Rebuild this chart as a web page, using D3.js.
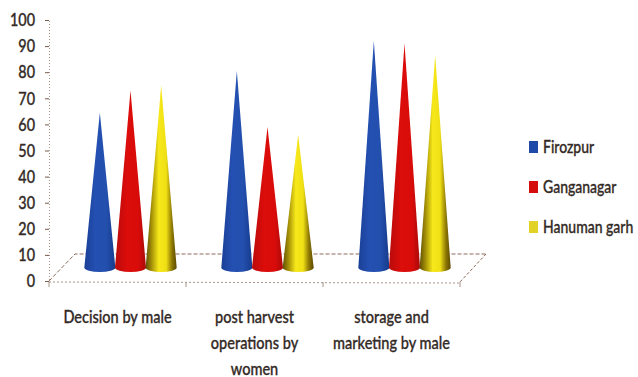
<!DOCTYPE html>
<html>
<head>
<meta charset="utf-8">
<script src="https://cdn.jsdelivr.net/npm/d3@7/dist/d3.min.js"></script>
<style>
  html, body { margin: 0; padding: 0; background: #fff; }
  svg { display: block; }
  text { font-family: Lato, "Open Sans", sans-serif; fill: #332a26; stroke: #332a26; stroke-width: 0.35px; font-weight: 500; }
</style>
</head>
<body>
<svg id="chart" width="638" height="377"></svg>
<script>
const categories = [["Decision by male"], ["post harvest", "operations by", "women"], ["storage and", "marketing by male"]];
const seriesNames = ["Firozpur", "Ganganagar", "Hanuman garh"];
const firozpur = [64.5, 80.5, 92];
const ganganagar = [73, 59, 91];
const hanumangarh = [75, 56, 86.5];
const tickValues = d3.range(0, 101, 10);
const seriesValues = [firozpur, ganganagar, hanumangarh];
const swatchColors = ["#1f4aa8", "#d50d0d", "#e2d226"];
const shading = [
  [["0%", "#1a3f96"], ["35%", "#2450b2"], ["70%", "#2350ae"], ["100%", "#173a8c"]],
  [["0%", "#b90b0b"], ["40%", "#dc0d0b"], ["75%", "#d80c0a"], ["100%", "#a80a08"]],
  [["0%", "#5f4e02"], ["18%", "#a08c06"], ["42%", "#f6e81a"], ["66%", "#efe015"], ["85%", "#8c7604"], ["100%", "#5c4a00"]]
];

const svg = d3.select("#chart");

// Plot frame: the floor is a parallelogram, with the back edge raised by one value-axis step.
const x0 = 49, x1 = 460, depthX = 26, depthY = 27;
const y = d3.scaleLinear().domain([0, 100]).range([281, 20]);
const xCat = d3.scaleBand().domain(d3.range(categories.length)).range([x0, x1]);
const xSeries = d3.scaleBand().domain(d3.range(seriesNames.length)).range([0, 92]).padding(0.0);

const defs = svg.append("defs");
shading.forEach((stops, i) => {
  const g = defs.append("linearGradient").attr("id", "cone" + i);
  stops.forEach(s => g.append("stop").attr("offset", s[0]).attr("stop-color", s[1]));
});

// Value axis
const axis = d3.axisLeft(y).tickValues(tickValues).tickSize(4).tickPadding(10);
const gAxis = svg.append("g").attr("transform", `translate(${x0},0)`).call(axis);
gAxis.select(".domain").attr("stroke", "#a89488").attr("stroke-dasharray", "1 2").attr("stroke-width", 1);
gAxis.selectAll(".tick line").attr("stroke", "#7a5a4c");
gAxis.selectAll(".tick text")
  .attr("font-size", 18).attr("font-family", "Lato, sans-serif")
  .attr("transform", "translate(-14,0) scale(0.8,1) translate(14,0)")
  .attr("x", -14);

// Floor outline
const floor = svg.append("g").attr("fill", "none");
floor.append("path")
  .attr("d", `M${x0},${y(0)}L${x0 + depthX},${y(0) - depthY}L${x1 + depthX},${y(0) - depthY}`)
  .attr("stroke", "#8d6a5c").attr("stroke-dasharray", "4 2");
floor.append("path")
  .attr("d", `M${x1 + depthX},${y(0) - depthY}L${x1},${y(0) + 1}`)
  .attr("stroke", "#8d6a5c").attr("stroke-dasharray", "3 2");
floor.append("path")
  .attr("d", `M${x0},${y(0) + 1}L${x1},${y(0) + 2}`)
  .attr("stroke", "#a89488").attr("stroke-dasharray", "2 2");
floor.selectAll("line.cat")
  .data(d3.range(categories.length + 1))
  .join("line")
  .attr("class", "cat")
  .attr("x1", d => x0 + d * xCat.bandwidth())
  .attr("x2", d => x0 + d * xCat.bandwidth())
  .attr("y1", y(0) + 1).attr("y2", y(0) + 6)
  .attr("stroke", "#a89488");

// Cones stand half way into the floor's depth
const baseY = y(0) - depthY / 2;
const rx = 15.5, ry = 4.5;
const conePath = (cx, value) =>
  `M${cx - rx},${baseY}L${cx},${y(value)}L${cx + rx},${baseY}` +
  `A${rx},${ry} 0 0 1 ${cx - rx},${baseY}Z`;

seriesValues.forEach((vals, s) => {
  svg.append("g").selectAll("path")
    .data(vals)
    .join("path")
    .attr("d", (v, c) => conePath(xCat(c) + xCat.bandwidth() / 2 + depthX / 2 - 46 + xSeries(s) + xSeries.bandwidth() / 2, v))
    .attr("fill", `url(#cone${s})`);
});

// Category labels
const labels = svg.append("g");
categories.forEach((lines, c) => {
  lines.forEach((line, i) => {
    const cx = xCat(c) + xCat.bandwidth() / 2;
    labels.append("text")
      .attr("text-anchor", "middle")
      .attr("font-size", 17.5)
      .attr("transform", `translate(${cx},${323 + i * 26}) scale(0.83,1)`)
      .text(line);
  });
});

// Legend
const legend = svg.append("g");
seriesNames.forEach((name, i) => {
  const ly = 147 + i * 40;
  legend.append("rect").attr("x", 529).attr("y", ly - 6).attr("width", 9).attr("height", 12)
    .attr("fill", swatchColors[i]);
  legend.append("text")
    .attr("font-size", 17.5)
    .attr("transform", `translate(543,${ly + 6}) scale(0.8,1)`)
    .text(name);
});
</script>
</body>
</html>
